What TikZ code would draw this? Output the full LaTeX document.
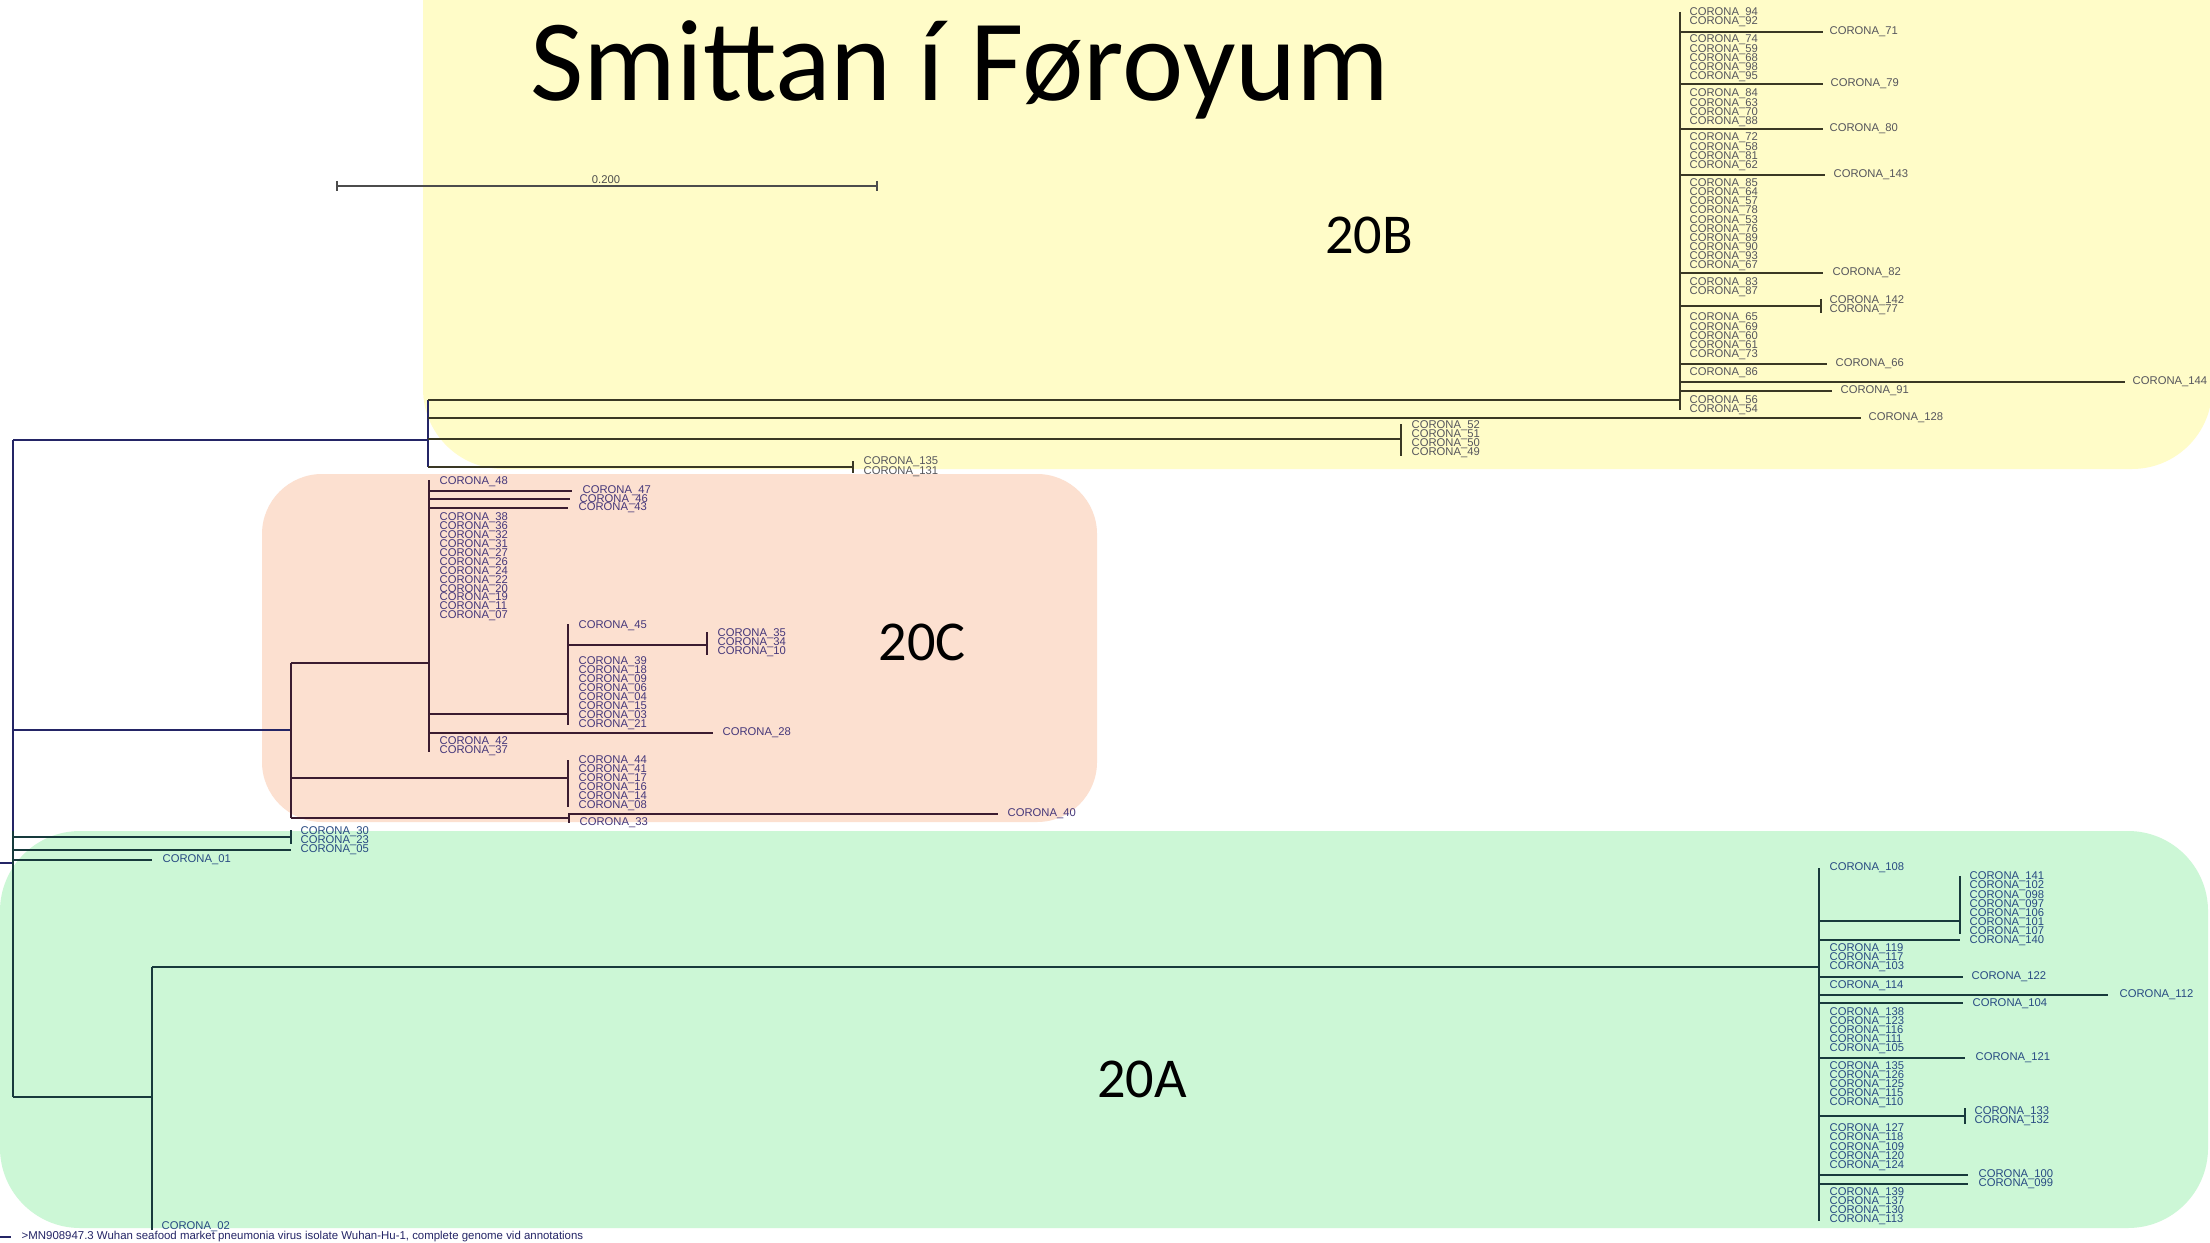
\documentclass[tikz,border=0pt]{standalone}
\usepackage{fontspec}
\setmainfont{Carlito}
\newfontfamily\labfam{Liberation Sans}
\definecolor{ybg}{HTML}{FFFCC8}
\definecolor{pbg}{HTML}{FCE0D0}
\definecolor{gbg}{HTML}{CCF7D6}
\definecolor{bline}{HTML}{3A3824}
\definecolor{blab}{HTML}{55555C}
\definecolor{cline}{HTML}{3B1C30}
\definecolor{clab}{HTML}{45377A}
\definecolor{aline}{HTML}{173A3C}
\definecolor{alab}{HTML}{274A82}
\definecolor{rline}{HTML}{242566}
\newcommand\lstack[6]{\foreach \n [count=\i from 0] in {#6} {\node[lab,#1] (#2\n) at (#3,{#4+#5*\i}) {CORONA\_\n};}}
\begin{document}
\begin{tikzpicture}[x=0.01cm,y=-0.01cm,
  tree/.style={line width=0.7pt},
  thintree/.style={line width=0.35pt},
  lab/.style={anchor=west,inner sep=0pt,font=\labfam\fontsize{3.2}{3.2}\selectfont},
  labB/.style={text=blab}, labC/.style={text=clab}, labA/.style={text=alab},
  big/.style={font=\fontsize{16}{16}\selectfont,text=black,inner sep=0pt,anchor=base}]
\useasboundingbox (0,0) rectangle (2210,1243);
\clip (0,0) rectangle (2210,1243);
\fill[white] (0,0) rectangle (2210,1243);
% regions
\fill[ybg, rounded corners=0.8cm] (423,-150) rectangle (2212,469);
\fill[pbg, rounded corners=0.6cm] (262,474) rectangle (1097,822);
\fill[gbg, rounded corners=0.8cm] (0,831) rectangle (2208,1228);
% title and clade names
\node[font=\fontsize{33}{33}\selectfont,anchor=base,inner sep=0pt] (title) at (960,101) {Smittan í Føroyum};
\node[big] (n20B) at (1369,254) {20B};
\node[big] (n20C) at (922,660) {20C};
\node[big] (n20A) at (1142,1097) {20A};
% scale bar
\draw[black!70, line width=0.3pt] (337,186) -- (877,186) (337,181) -- (337,191) (877,181) -- (877,191);
\node[lab,anchor=base,text=black!70] (scale) at (606,184) {0.200};
% root
\draw[tree,rline] (0,863) -- (13,863);
\draw[tree,rline] (13,440) -- (13,831);
\draw[tree,aline] (13,831) -- (13,1097);
% ---------- 20B ----------
\draw[tree,rline] (13,440) -- (428,440);
\draw[tree,rline] (428,400) -- (428,467);
\draw[tree,bline] (428,400) -- (1680,400);
\draw[tree,bline] (428,418) -- (1861,418);
\node[lab,labB] (b128) at (1868,418) {CORONA\_128};
\draw[tree,bline] (428,439) -- (1401,439) (1401,424) -- (1401,456);
\lstack{labB}{b}{1411}{426}{9}{52,51,50,49}
\draw[tree,bline] (428,467) -- (853,467) (853,461) -- (853,473);
\node[lab,labB] (b135) at (863,462) {CORONA\_135};
\node[lab,labB] (b131) at (863,472) {CORONA\_131};
\draw[tree,bline] (1680,12) -- (1680,410);
\draw[tree,bline] (1680,32) -- (1823,32);
\node[lab,labB] (b71) at (1829,32) {CORONA\_71};
\draw[tree,bline] (1680,84) -- (1823,84);
\node[lab,labB] (b79) at (1830,84) {CORONA\_79};
\draw[tree,bline] (1680,129) -- (1823,129);
\node[lab,labB] (b80) at (1829,129) {CORONA\_80};
\draw[tree,bline] (1680,175) -- (1825,175);
\node[lab,labB] (b143) at (1833,175) {CORONA\_143};
\draw[tree,bline] (1680,273) -- (1823,273);
\node[lab,labB] (b82) at (1832,273) {CORONA\_82};
\draw[tree,bline] (1680,306) -- (1821,306) (1821,299) -- (1821,313);
\node[lab,labB] (b142) at (1829,301) {CORONA\_142};
\node[lab,labB] (b77) at (1829,310) {CORONA\_77};
\draw[tree,bline] (1680,364) -- (1827,364);
\node[lab,labB] (b66) at (1835,364) {CORONA\_66};
\draw[thintree,bline] (1680,382) -- (2125,382);
\node[lab,labB] (b144) at (2132,382) {CORONA\_144};
\draw[tree,bline] (1680,391) -- (1832,391);
\node[lab,labB] (b91) at (1840,391) {CORONA\_91};
\lstack{labB}{b}{1689}{13}{9}{94,92}
\lstack{labB}{b}{1689}{40}{9.2}{74,59,68,98,95}
\lstack{labB}{b}{1689}{94}{9.2}{84,63,70,88}
\lstack{labB}{b}{1689}{138}{9.2}{72,58,81,62}
\lstack{labB}{b}{1689}{184}{9.05}{85,64,57,78,53,76,89,90,93,67}
\lstack{labB}{b}{1689}{283}{9}{83,87}
\lstack{labB}{b}{1689}{318}{9.2}{65,69,60,61,73}
\lstack{labB}{b}{1689}{373}{9}{86}
\lstack{labB}{b}{1689}{401}{8.5}{56,54}
% ---------- 20C ----------
\draw[tree,rline] (13,730) -- (291,730);
\draw[tree,cline] (291,663) -- (291,818);
\draw[tree,cline] (291,663) -- (429,663);
\draw[tree,cline] (429,480) -- (429,752);
\node[lab,labC] (c48) at (439,482) {CORONA\_48};
\draw[tree,cline] (429,491) -- (572,491) (429,499) -- (570,499) (429,508) -- (568,508);
\node[lab,labC] (c47) at (582,491) {CORONA\_47};
\node[lab,labC] (c46) at (579,500) {CORONA\_46};
\node[lab,labC] (c43) at (578,508) {CORONA\_43};
\lstack{labC}{c}{439}{518}{8.9}{38,36,32,31,27,26,24,22,20,19,11,07}
\draw[tree,cline] (429,714) -- (568,714) (568,624) -- (568,725);
\node[lab,labC] (c45) at (578,626) {CORONA\_45};
\draw[tree,cline] (568,645) -- (707,645) (707,632) -- (707,655);
\lstack{labC}{c}{717}{634}{9}{35,34,10}
\lstack{labC}{c}{578}{662}{9}{39,18,09,06,04,15,03,21}
\draw[tree,cline] (429,733) -- (713,733);
\node[lab,labC] (c28) at (722,733) {CORONA\_28};
\lstack{labC}{c}{439}{742}{8.5}{42,37}
\draw[tree,cline] (291,778) -- (568,778) (568,760) -- (568,807);
\lstack{labC}{c}{578}{761}{9}{44,41,17,16,14,08}
\draw[tree,cline] (291,818) -- (569,818) (569,813) -- (569,823) (569,814) -- (998,814);
\node[lab,labC] (c40) at (1007,814) {CORONA\_40};
\node[lab,labC] (c33) at (579,823) {CORONA\_33};
% ---------- basal ----------
\draw[tree,aline] (13,837) -- (291,837) (291,830) -- (291,844);
\node[lab,labA] (a30) at (300,832) {CORONA\_30};
\node[lab,labA] (a23) at (300,841) {CORONA\_23};
\draw[tree,aline] (13,850) -- (291,850);
\node[lab,labA] (a05) at (300,850) {CORONA\_05};
\draw[tree,aline] (13,860) -- (152,860);
\node[lab,labA] (a01) at (162,860) {CORONA\_01};
% ---------- 20A ----------
\draw[tree,aline] (13,1097) -- (152,1097) (152,967) -- (152,1230);
\node[lab,labA] (a02) at (161,1227) {CORONA\_02};
\draw[tree,aline] (152,967) -- (1819,967);
\draw[tree,aline] (1819,868) -- (1819,1221);
\node[lab,labA] (a108) at (1829,868) {CORONA\_108};
\draw[tree,aline] (1819,921) -- (1960,921) (1960,876) -- (1960,934);
\lstack{labA}{a}{1969}{877}{9.1}{141,102,098,097,106,101,107}
\draw[tree,aline] (1819,940) -- (1960,940);
\node[lab,labA] (a140) at (1969,941) {CORONA\_140};
\lstack{labA}{a}{1829}{949}{9}{119,117,103}
\draw[tree,aline] (1819,977) -- (1963,977);
\node[lab,labA] (a122) at (1971,977) {CORONA\_122};
\node[lab,labA] (a114) at (1829,986) {CORONA\_114};
\draw[thintree,aline] (1819,995) -- (2108,995);
\node[lab,labA] (a112) at (2119,995) {CORONA\_112};
\draw[tree,aline] (1819,1003) -- (1963,1003);
\node[lab,labA] (a104) at (1972,1004) {CORONA\_104};
\lstack{labA}{a}{1829}{1013}{8.8}{138,123,116,111,105}
\draw[tree,aline] (1819,1058) -- (1965,1058);
\node[lab,labA] (a121) at (1975,1058) {CORONA\_121};
\lstack{labA}{a}{1829}{1067}{9}{135,126,125,115,110}
\draw[tree,aline] (1819,1116) -- (1965,1116) (1965,1108) -- (1965,1124);
\node[lab,labA] (a133) at (1974,1112) {CORONA\_133};
\node[lab,labA] (a132) at (1974,1121) {CORONA\_132};
\lstack{labA}{a}{1829}{1129}{9.1}{127,118,109,120,124}
\draw[tree,aline] (1819,1175) -- (1968,1175) (1819,1184) -- (1968,1184);
\node[lab,labA] (a100) at (1978,1175) {CORONA\_100};
\node[lab,labA] (a099) at (1978,1184) {CORONA\_099};
\lstack{labA}{a}{1829}{1193}{9}{139,137,130,113}
% reference sequence
\draw[tree,rline] (0,1237) -- (11,1237);
\node[lab,text=rline,font=\labfam\fontsize{3.25}{3.25}\selectfont] (wuhan) at (21,1237) {>MN908947.3 Wuhan seafood market pneumonia virus isolate Wuhan-Hu-1, complete genome vid annotations};
\end{tikzpicture}
\end{document}
